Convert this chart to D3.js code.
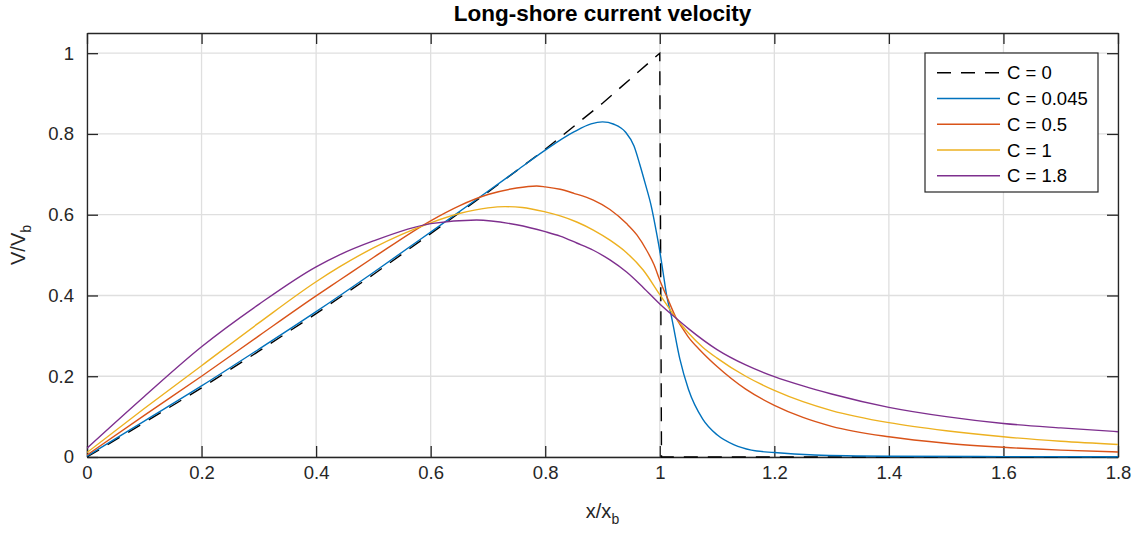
<!DOCTYPE html>
<html><head><meta charset="utf-8">
<script src="https://cdn.jsdelivr.net/npm/d3@7"></script>
<style>
html,body{margin:0;padding:0;background:#fff;}
svg{display:block;font-family:"Liberation Sans",Arial,Helvetica,sans-serif;}
</style></head>
<body>
<svg id="chart" width="1138" height="534"></svg>
<script>
// ---- data ----
const xTicks = [0, 0.2, 0.4, 0.6, 0.8, 1, 1.2, 1.4, 1.6, 1.8];
const xTickLabels = ["0","0.2","0.4","0.6","0.8","1","1.2","1.4","1.6","1.8"];
const yTicks = [0, 0.2, 0.4, 0.6, 0.8, 1];
const yTickLabels = ["0","0.2","0.4","0.6","0.8","1"];
const seriesNames = ["C = 0", "C = 0.045", "C = 0.5", "C = 1", "C = 1.8"];

// C = 0
const x0 = [0, 0.1, 0.2, 0.3, 0.4, 0.5, 0.6, 0.7, 0.8, 0.9, 1.0, 1.003, 1.8];
const v0 = [0, 0.085, 0.171, 0.262, 0.355, 0.452, 0.553, 0.656, 0.762, 0.876, 1.0, 0, 0];
// C = 0.045
const x1 = [0, 0.1, 0.2, 0.3, 0.4, 0.5, 0.6, 0.7, 0.75, 0.8, 0.85, 0.88, 0.9, 0.92, 0.94, 0.955, 0.965, 0.975, 0.985, 0.995, 1.0, 1.006, 1.012, 1.02, 1.035, 1.05, 1.075, 1.1, 1.13, 1.16, 1.2, 1.27, 1.4, 1.6, 1.8];
const v1 = [0.002, 0.089, 0.176, 0.267, 0.36, 0.457, 0.557, 0.658, 0.709, 0.76, 0.805, 0.825, 0.830, 0.824, 0.805, 0.77, 0.725, 0.675, 0.622, 0.55, 0.51, 0.455, 0.40, 0.35, 0.243, 0.168, 0.094, 0.055, 0.03, 0.017, 0.011, 0.005, 0.002, 0.001, 0.0005];
// C = 0.5
const x2 = [0, 0.1, 0.2, 0.3, 0.4, 0.44, 0.5, 0.6, 0.65, 0.7, 0.75, 0.785, 0.8, 0.826, 0.85, 0.884, 0.913, 0.942, 0.96, 0.977, 0.99, 1.0, 1.015, 1.029, 1.04, 1.05, 1.07, 1.1, 1.15, 1.2, 1.25, 1.3, 1.4, 1.5, 1.6, 1.7, 1.8];
const v2 = [0.005, 0.103, 0.2, 0.30, 0.399, 0.437, 0.494, 0.585, 0.622, 0.65, 0.666, 0.671, 0.669, 0.663, 0.653, 0.636, 0.613, 0.578, 0.55, 0.512, 0.476, 0.438, 0.388, 0.343, 0.318, 0.297, 0.265, 0.224, 0.168, 0.128, 0.098, 0.076, 0.05, 0.034, 0.024, 0.017, 0.0125];
// C = 1
const x3 = [0, 0.1, 0.2, 0.3, 0.4, 0.44, 0.5, 0.6, 0.65, 0.7, 0.73, 0.76, 0.8, 0.826, 0.855, 0.884, 0.913, 0.942, 0.971, 1.0, 1.015, 1.029, 1.05, 1.075, 1.1, 1.15, 1.2, 1.25, 1.3, 1.4, 1.5, 1.6, 1.7, 1.8];
const v3 = [0.011, 0.12, 0.226, 0.332, 0.434, 0.47, 0.518, 0.58, 0.603, 0.617, 0.62, 0.618, 0.607, 0.597, 0.582, 0.562, 0.537, 0.506, 0.463, 0.402, 0.371, 0.343, 0.307, 0.272, 0.245, 0.200, 0.165, 0.137, 0.115, 0.085, 0.065, 0.05, 0.039, 0.031];
// C = 1.8
const x4 = [0, 0.1, 0.2, 0.3, 0.4, 0.44, 0.5, 0.6, 0.68, 0.75, 0.8, 0.826, 0.855, 0.884, 0.913, 0.942, 0.971, 1.0, 1.029, 1.05, 1.1, 1.15, 1.2, 1.25, 1.3, 1.4, 1.5, 1.6, 1.7, 1.8];
const v4 = [0.022, 0.15, 0.273, 0.378, 0.471, 0.50, 0.535, 0.578, 0.587, 0.575, 0.558, 0.547, 0.530, 0.512, 0.488, 0.458, 0.42, 0.379, 0.343, 0.318, 0.266, 0.228, 0.199, 0.176, 0.156, 0.123, 0.100, 0.083, 0.072, 0.0627];

const seriesX = [x0, x1, x2, x3, x4];
const seriesV = [v0, v1, v2, v3, v4];
const colors = ["#000000", "#0072BD", "#D95319", "#EDB120", "#7E2F8E"];

// ---- layout ----
const L = 87, R = 1118, T = 33, B = 457;
const svg = d3.select("#chart");
const xs = d3.scaleLinear().domain([0, 1.8]).range([L, R]);
const ys = d3.scaleLinear().domain([0, 1.05]).range([B, T]);
const axisColor = "#262626";
const fs = 18.5;

// grid
const g = svg.append("g");
g.selectAll("line.gx").data(xTicks).join("line")
  .attr("x1", d => xs(d)).attr("x2", d => xs(d)).attr("y1", T).attr("y2", B)
  .attr("stroke", "#dfdfdf").attr("stroke-width", 1.3);
g.selectAll("line.gy").data(yTicks).join("line")
  .attr("y1", d => ys(d)).attr("y2", d => ys(d)).attr("x1", L).attr("x2", R)
  .attr("stroke", "#dfdfdf").attr("stroke-width", 1.3);

// axes (ticks inward), full box
const tickLen = 11;
const axB = d3.axisBottom(xs).tickValues(xTicks).tickFormat((d,i) => xTickLabels[i]).tickSizeInner(-tickLen).tickSizeOuter(0).tickPadding(18);
const axT = d3.axisTop(xs).tickValues(xTicks).tickFormat("").tickSizeInner(-tickLen).tickSizeOuter(0);
const axL = d3.axisLeft(ys).tickValues(yTicks).tickFormat((d,i) => yTickLabels[i]).tickSizeInner(-tickLen).tickSizeOuter(0).tickPadding(13);
const axR = d3.axisRight(ys).tickValues(yTicks).tickFormat("").tickSizeInner(-tickLen).tickSizeOuter(0);

function styleAxis(sel) {
  sel.select(".domain").attr("stroke", axisColor).attr("stroke-width", 1.3);
  sel.selectAll(".tick line").attr("stroke", axisColor).attr("stroke-width", 1.3);
  sel.selectAll(".tick text").attr("fill", axisColor).style("font-size", fs + "px")
     .style("font-family", '"Liberation Sans",Arial,sans-serif');
}
const gB = svg.append("g").attr("transform", `translate(0,${B})`).call(axB).call(styleAxis);
svg.append("g").attr("transform", `translate(0,${T})`).call(axT).call(styleAxis);
svg.append("g").attr("transform", `translate(${L},0)`).call(axL).call(styleAxis);
svg.append("g").attr("transform", `translate(${R},0)`).call(axR).call(styleAxis);
gB.selectAll(".tick text").attr("dy", "0.2em");

// clip
svg.append("clipPath").attr("id", "clip").append("rect")
  .attr("x", L).attr("y", T - 2).attr("width", R - L + 1).attr("height", B - T + 3);

// lines
const smooth = d3.line().curve(d3.curveMonotoneX).x(d => xs(d[0])).y(d => ys(d[1]));
const straight = d3.line().curve(d3.curveLinear).x(d => xs(d[0])).y(d => ys(d[1]));
const lg = svg.append("g").attr("clip-path", "url(#clip)");
seriesX.forEach((xa, i) => {
  const pts = xa.map((x, j) => [x, seriesV[i][j]]);
  lg.append("path").datum(pts).attr("d", i === 0 ? straight : smooth)
    .attr("fill", "none").attr("stroke", colors[i]).attr("stroke-width", 1.4)
    .attr("stroke-dasharray", i === 0 ? "14,10" : null);
});

// title
svg.append("text").attr("x", (L + R) / 2).attr("y", 21).attr("text-anchor", "middle")
  .style("font-weight", "bold").style("font-size", "22.5px").attr("fill", "#000")
  .text("Long-shore current velocity");

// x label
const xl = svg.append("text").attr("x", (L + R) / 2).attr("y", 518).attr("text-anchor", "middle")
  .style("font-size", "20px").attr("fill", axisColor);
xl.append("tspan").text("x/x");
xl.append("tspan").attr("dy", 6).style("font-size", "14px").text("b");

// y label
const yl = svg.append("text").attr("transform", `translate(25,${(T + B) / 2}) rotate(-90)`)
  .attr("text-anchor", "middle").style("font-size", "20px").attr("fill", axisColor);
yl.append("tspan").text("V/V");
yl.append("tspan").attr("dy", 6).style("font-size", "14px").text("b");

// legend
const lgX = 925, lgY = 53, lgW = 173, lgH = 139;
const leg = svg.append("g");
leg.append("rect").attr("x", lgX).attr("y", lgY).attr("width", lgW).attr("height", lgH)
  .attr("fill", "#fff").attr("stroke", axisColor).attr("stroke-width", 1.2);
const rowY = d3.scaleLinear().domain([0, 4]).range([72.7, 175.8]);
seriesNames.forEach((name, i) => {
  leg.append("line").attr("x1", 937).attr("x2", 1000).attr("y1", rowY(i)).attr("y2", rowY(i))
    .attr("stroke", colors[i]).attr("stroke-width", 1.4)
    .attr("stroke-dasharray", i === 0 ? "14,10" : null);
  leg.append("text").attr("x", 1007).attr("y", rowY(i)).attr("dy", "0.35em")
    .style("font-size", fs + "px").attr("fill", "#000").text(name);
});
</script>
</body></html>
